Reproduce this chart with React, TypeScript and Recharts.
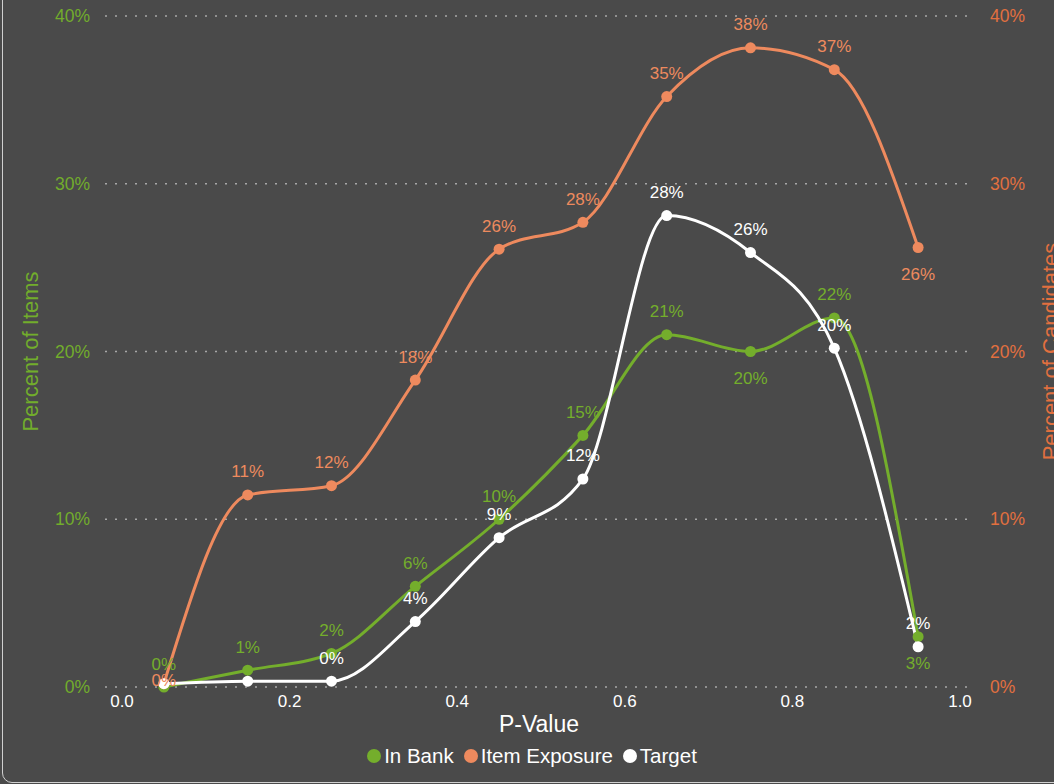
import React from 'react';
import { LineChart, Line, XAxis, YAxis, CartesianGrid, Legend, LabelList } from 'recharts';

const pValues = [0.05, 0.15, 0.25, 0.35, 0.45, 0.55, 0.65, 0.75, 0.85, 0.95];
const inBank = [0, 1.0, 2.0, 6.0, 10.0, 15.0, 21.0, 20.0, 22.0, 3.0];
const itemExposure = [0.2, 11.45, 12.0, 18.3, 26.1, 27.7, 35.2, 38.1, 36.8, 26.2];
const target = [0.2, 0.35, 0.35, 3.9, 8.9, 12.4, 28.1, 25.9, 20.2, 2.4];
const xTicks = [0, 0.2, 0.4, 0.6, 0.8, 1.0];
const yTicks = [0, 10, 20, 30, 40];

// label placement: 'above' | 'below' | 'center' | 'none'
const inBankLabelPos = ['above', 'above', 'above', 'above', 'above', 'above', 'above', 'below', 'above', 'below'];
const exposureLabelPos = ['center', 'above', 'above', 'above', 'above', 'above', 'above', 'above', 'above', 'below'];
const targetLabelPos = ['none', 'none', 'above', 'above', 'above', 'above', 'above', 'above', 'above', 'above'];

const GREEN = '#74ae2c';
const GREEN_TXT = '#72ad2c';
const ORANGE = '#ee8a5e';
const ORANGE_TXT = '#e2703f';
const WHITE = '#ffffff';
const BG = '#4a4a4a';
const FONT = '"Liberation Sans", Arial, sans-serif';

const data = pValues.map((p, i) => ({
  p,
  inBank: inBank[i],
  itemExposure: itemExposure[i],
  target: target[i],
}));

const series = [
  { key: 'inBank', name: 'In Bank', color: GREEN, axis: 'left', pos: inBankLabelPos, txt: GREEN },
  { key: 'itemExposure', name: 'Item Exposure', color: ORANGE, axis: 'right', pos: exposureLabelPos, txt: ORANGE },
  { key: 'target', name: 'Target', color: WHITE, axis: 'left', pos: targetLabelPos, txt: WHITE },
];

const makeLabel = (pos: string[], color: string) => (props: any) => {
  const { x, y, value, index } = props;
  const p = pos[index];
  if (p === 'none' || x == null || y == null) return null;
  const dy = p === 'above' ? -23 : p === 'below' ? 27 : -3;
  return (
    <text
      x={x}
      y={y + dy}
      fill={color}
      fontSize={17}
      fontFamily={FONT}
      textAnchor="middle"
      dominantBaseline="central"
    >
      {`${Math.round(value)}%`}
    </text>
  );
};

const renderLegend = () => (
  <div
    style={{
      display: 'flex',
      justifyContent: 'center',
      alignItems: 'center',
      fontFamily: FONT,
      fontSize: 20.5,
      color: '#ffffff',
      paddingTop: 0,
      paddingLeft: 20,
    }}
  >
    {series.map((s) => (
      <span key={s.key} style={{ display: 'flex', alignItems: 'center', marginRight: 10 }}>
        <span
          style={{
            width: 14,
            height: 14,
            borderRadius: '50%',
            background: s.color,
            display: 'inline-block',
            marginRight: 3,
          }}
        />
        {s.name}
      </span>
    ))}
  </div>
);

const leftAxisLabel = (props: any) => {
  const vb = props.viewBox || {};
  const cx = vb.x + 30;
  const cy = vb.y + vb.height / 2;
  return (
    <text
      x={cx}
      y={cy}
      transform={`rotate(-90, ${cx}, ${cy})`}
      textAnchor="middle"
      dominantBaseline="central"
      fill={GREEN_TXT}
      fontSize={22}
      fontFamily={FONT}
    >
      Percent of Items
    </text>
  );
};

const rightAxisLabel = (props: any) => {
  const vb = props.viewBox || {};
  const cx = vb.x + 77;
  const cy = vb.y + vb.height / 2;
  return (
    <text
      x={cx}
      y={cy}
      transform={`rotate(-90, ${cx}, ${cy})`}
      textAnchor="middle"
      dominantBaseline="central"
      fill={ORANGE_TXT}
      fontSize={22}
      fontFamily={FONT}
    >
      Percent of Candidates
    </text>
  );
};

export default function App() {
  return (
    <div style={{ position: 'fixed', left: 0, top: 0, width: 1054, height: 784, background: BG, overflow: 'hidden' }}>
      <LineChart
        width={1054}
        height={784}
        data={data}
        margin={{ top: 16, right: 0, bottom: 0, left: 0 }}
      >
        <CartesianGrid yAxisId="left" vertical={false} stroke="#a8a8a8" strokeDasharray="2 8" strokeWidth={1.5} />
        <XAxis
          dataKey="p"
          type="number"
          domain={[0, 1]}
          ticks={xTicks}
          tickFormatter={(v: number) => v.toFixed(1)}
          padding={{ left: 17, right: 13 }}
          axisLine={false}
          tickLine={false}
          tickSize={0}
          tickMargin={8}
          height={57}
          tick={{ fill: '#ffffff', fontSize: 17, fontFamily: FONT }}
          label={{ value: 'P-Value', position: 'insideBottom', offset: 12, fill: '#ffffff', fontSize: 23, fontFamily: FONT }}
        />
        <YAxis
          yAxisId="left"
          domain={[0, 40]}
          ticks={yTicks}
          tickFormatter={(v: number) => `${v}%`}
          width={105}
          axisLine={false}
          tickLine={false}
          tickSize={0}
          tickMargin={15}
          tick={{ fill: GREEN_TXT, fontSize: 17.5, fontFamily: FONT }}
          label={leftAxisLabel}
        />
        <YAxis
          yAxisId="right"
          orientation="right"
          domain={[0, 40]}
          ticks={yTicks}
          tickFormatter={(v: number) => `${v}%`}
          width={81}
          axisLine={false}
          tickLine={false}
          tickSize={0}
          tickMargin={17}
          tick={{ fill: ORANGE_TXT, fontSize: 17.5, fontFamily: FONT }}
          label={rightAxisLabel}
        />
        <Legend verticalAlign="bottom" height={40} content={renderLegend} />
        {series.map((s) => (
          <Line
            key={s.key}
            yAxisId={s.axis}
            type="monotone"
            dataKey={s.key}
            name={s.name}
            stroke={s.color}
            strokeWidth={3}
            dot={{ r: 5.5, fill: s.color, stroke: 'none' }}
            activeDot={false}
            isAnimationActive={false}
          >
            <LabelList dataKey={s.key} content={makeLabel(s.pos, s.txt)} />
          </Line>
        ))}
      </LineChart>
      <div
        style={{
          position: 'absolute',
          left: 2,
          top: -20,
          width: 1100,
          height: 803,
          border: '1.5px solid #d0d0d0',
          borderRadius: 10,
          pointerEvents: 'none',
          boxSizing: 'border-box',
        }}
      />
    </div>
  );
}
